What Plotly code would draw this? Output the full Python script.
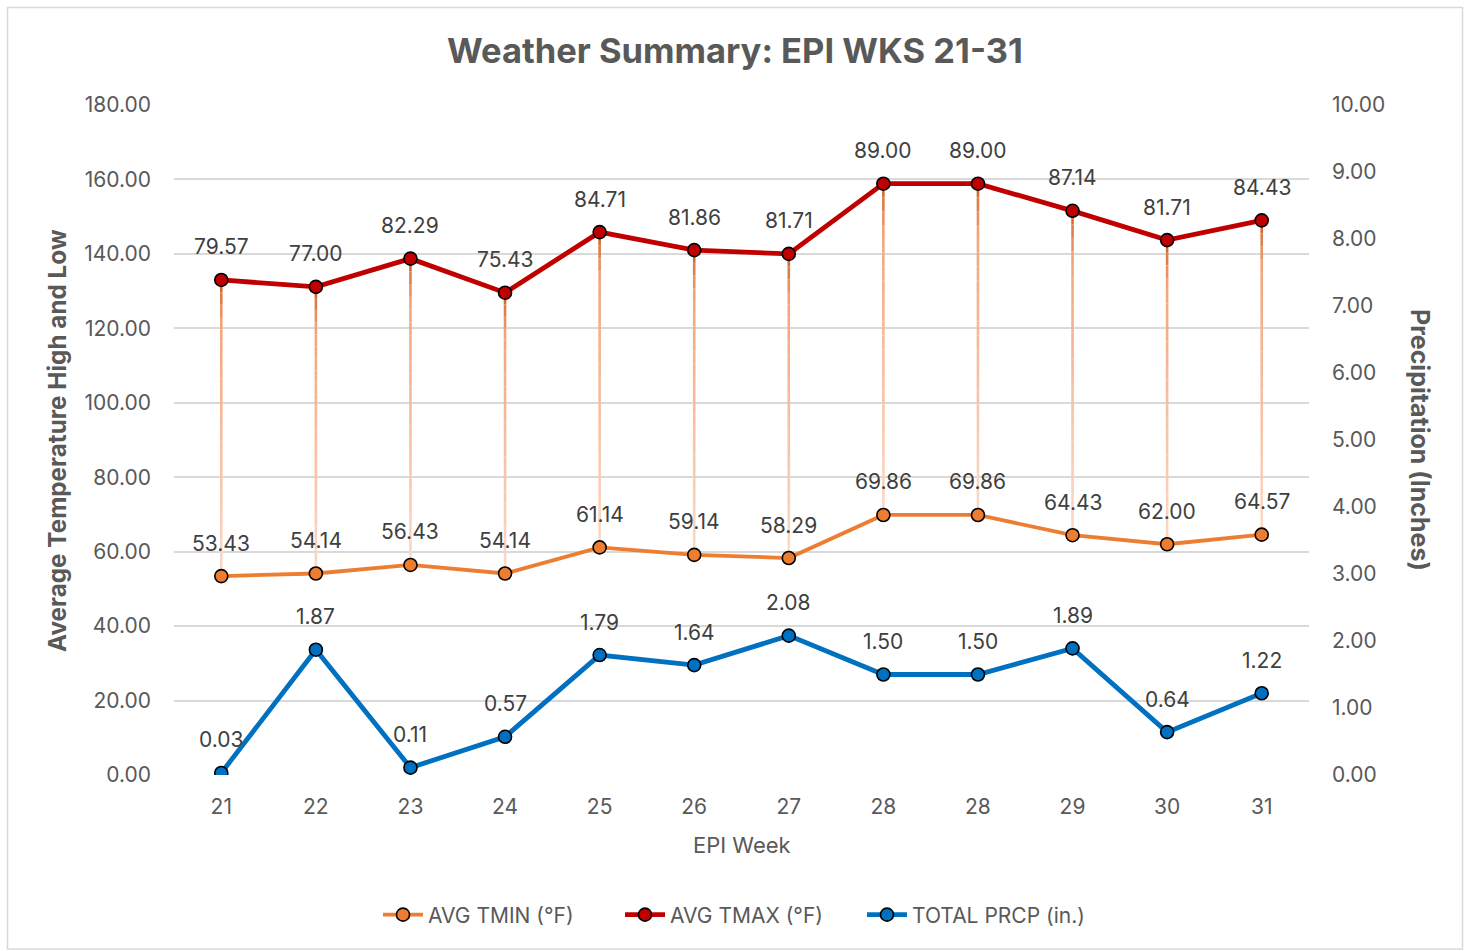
import plotly.graph_objects as go

weeks = ["21", "22", "23", "24", "25", "26", "27", "28", "28", "29", "30", "31"]
tmin = [53.43, 54.14, 56.43, 54.14, 61.14, 59.14, 58.29, 69.86, 69.86, 64.43, 62.00, 64.57]
tmax = [79.57, 77.00, 82.29, 75.43, 84.71, 81.86, 81.71, 89.00, 89.00, 87.14, 81.71, 84.43]
prcp = [0.03, 1.87, 0.11, 0.57, 1.79, 1.64, 2.08, 1.50, 1.50, 1.89, 0.64, 1.22]

FONT = "Inter"
GRAY = "#595959"
C_MIN = "#ED7D31"
C_MAX = "#C00000"
C_PR = "#0070C0"

xs = list(range(len(weeks)))
tmax_stacked = [a + b for a, b in zip(tmin, tmax)]

W, H = 1464, 951
L, R, T, B = 174, 155, 105, 176
pw, ph = W - L - R, H - T - B

fig = go.Figure()

# gradient high-low lines
def lerp(c1, c2, t):
    return tuple(round(a + (b - a) * t) for a, b in zip(c1, c2))

top_c = (208, 98, 40)
mid_c = (242, 165, 122)
bot_c = (250, 218, 202)
NSEG = 24
for i in xs:
    lo, hi = tmin[i], tmax_stacked[i]
    for s in range(NSEG):
        f0 = s / NSEG
        f1 = (s + 1) / NSEG
        fm = (f0 + f1) / 2  # 0 at top, 1 at bottom
        if fm < 0.15:
            col = lerp(top_c, mid_c, fm / 0.15)
        else:
            col = lerp(mid_c, bot_c, (fm - 0.15) / 0.85)
        fig.add_trace(go.Scatter(
            x=[i, i], y=[hi - (hi - lo) * f0, hi - (hi - lo) * f1],
            mode="lines", line=dict(color="rgb(%d,%d,%d)" % col, width=2.6),
            showlegend=False, hoverinfo="skip"))

marker_line = dict(color="black", width=1.6)
fig.add_trace(go.Scatter(x=xs, y=tmin, name="AVG TMIN (°F)", mode="lines+markers",
                         line=dict(color=C_MIN, width=3.8),
                         marker=dict(size=13, color=C_MIN, line=marker_line)))
fig.add_trace(go.Scatter(x=xs, y=tmax_stacked, name="AVG TMAX (°F)", mode="lines+markers",
                         line=dict(color=C_MAX, width=4.8),
                         marker=dict(size=13, color=C_MAX, line=marker_line)))
fig.add_trace(go.Scatter(x=xs, y=prcp, name="TOTAL PRCP (in.)", mode="lines+markers",
                         yaxis="y2",
                         line=dict(color=C_PR, width=4.8),
                         marker=dict(size=13, color=C_PR, line=marker_line)))

ann = []
lab_font = dict(family=FONT, size=21, color="#404040")
for i in xs:
    ann.append(dict(x=i, y=tmin[i], xref="x", yref="y", text="%.2f" % tmin[i],
                    showarrow=False, yshift=33, font=lab_font,
                    xanchor="center", yanchor="middle"))
    ann.append(dict(x=i, y=tmax_stacked[i], xref="x", yref="y", text="%.2f" % tmax[i],
                    showarrow=False, yshift=33, font=lab_font,
                    xanchor="center", yanchor="middle"))
    ann.append(dict(x=i, y=prcp[i], xref="x", yref="y2", text="%.2f" % prcp[i],
                    showarrow=False, yshift=33, font=lab_font,
                    xanchor="center", yanchor="middle"))

def px_x(p):
    return (p - L) / pw

def px_y(p):
    return (H - B - p) / ph

def txt(xp, yp, text, size, angle=0):
    return dict(x=px_x(xp), y=px_y(yp), xref="paper", yref="paper", text=text,
                showarrow=False, textangle=angle, xanchor="center", yanchor="middle",
                font=dict(family=FONT, size=size, color=GRAY))

ann.append(txt(735, 50, "<b>Weather Summary: EPI WKS 21-31</b>", 34.5))
ann.append(txt(57, 441, "<b>Average Temperature High and Low</b>", 24.3, -90))
ann.append(txt(1420, 440, "<b>Precipitation (Inches)</b>", 25, 90))
ann.append(txt(742, 845, "EPI Week", 22))

shapes = [dict(type="rect", xref="paper", yref="paper",
               x0=px_x(7.5), x1=px_x(1462.5), y0=px_y(949), y1=px_y(7.5),
               line=dict(color="#D9D9D9", width=1.5), layer="below")]

fig.update_layout(
    width=W, height=H,
    margin=dict(l=L, r=R, t=T, b=B, autoexpand=False),
    paper_bgcolor="white", plot_bgcolor="white",
    font=dict(family=FONT, size=21, color=GRAY),
    showlegend=True,
    legend=dict(orientation="h", x=px_x(741), xanchor="center", y=px_y(915), yanchor="middle",
                font=dict(family=FONT, size=21, color=GRAY), itemwidth=40,
                entrywidth=187, traceorder="normal"),
    xaxis=dict(range=[-0.5, 11.5], tickmode="array", tickvals=xs, ticktext=weeks,
               showgrid=False, zeroline=False, showline=False, ticks="",
               ticklabelstandoff=17, tickfont=dict(size=21, color=GRAY)),
    yaxis=dict(range=[0, 180], dtick=20, tickformat=".2f", showgrid=True,
               gridcolor="#D9D9D9", gridwidth=1.5, zeroline=False, showline=False,
               ticks="", ticklabelstandoff=22, tickfont=dict(size=21, color=GRAY)),
    yaxis2=dict(range=[0, 10], dtick=1, tickformat=".2f", overlaying="y", side="right",
                showgrid=False, zeroline=False, showline=False, ticks="",
                ticklabelstandoff=22, tickfont=dict(size=21, color=GRAY)),
    annotations=ann,
    shapes=shapes,
)

fig.write_html("out.html", config={"displayModeBar": False},
               post_script="document.body.style.margin='0';document.body.style.overflow='hidden';")
